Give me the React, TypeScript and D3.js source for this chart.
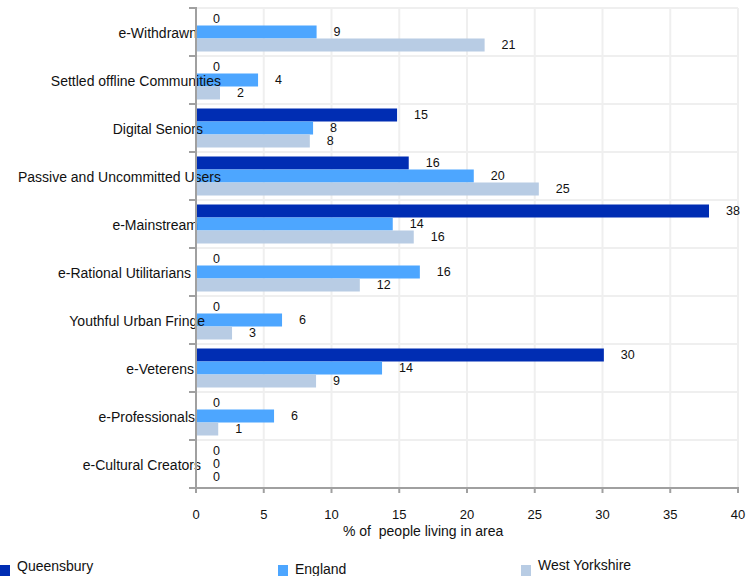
import React from "react";
import * as d3 from "d3";

const categories = [
  "e-Withdrawn",
  "Settled offline Communities",
  "Digital Seniors",
  "Passive and Uncommitted Users",
  "e-Mainstream",
  "e-Rational Utilitarians",
  "Youthful Urban Fringe",
  "e-Veterens",
  "e-Professionals",
  "e-Cultural Creators",
];

const seriesNames = ["Queensbury", "England", "West Yorkshire"];

const queensbury = [0, 0, 14.84, 15.7, 37.86, 0, 0, 30.1, 0, 0];
const england = [8.9, 4.58, 8.64, 20.5, 14.52, 16.52, 6.35, 13.73, 5.76, 0];
const westYorkshire = [21.3, 1.77, 8.4, 25.3, 16.07, 12.09, 2.66, 8.86, 1.64, 0];

const queensburyLabels = ["0", "0", "15", "16", "38", "0", "0", "30", "0", "0"];
const englandLabels = ["9", "4", "8", "20", "14", "16", "6", "14", "6", "0"];
const westYorkshireLabels = ["21", "2", "8", "25", "16", "12", "3", "9", "1", "0"];

const xTicks = [0, 5, 10, 15, 20, 25, 30, 35, 40];
const axisTitle = "% of  people living in area";

// layout nudges for category label ends (as in the reference)
const labelShift = [-3, 21, 3, 21, -2, -9, 5, -6, -5, 1];

const colors = ["#002DB3", "#4DA6FF", "#B8CCE4"];

export default function App() {
  const W = 754;
  const H = 576;
  const left = 196;
  const right = 738;
  const top = 8;
  const bottom = 488;

  const x = d3.scaleLinear().domain([0, 40]).range([left, right]);
  const y = d3.scaleBand<string>().domain(categories).range([top, bottom]);
  const sub = d3
    .scaleBand<string>()
    .domain(seriesNames)
    .range([4.5, y.bandwidth() - 4.5]);

  const seriesVals = [queensbury, england, westYorkshire];
  const seriesLabels = [queensburyLabels, englandLabels, westYorkshireLabels];

  const font = "'Liberation Sans', Arial, Helvetica, sans-serif";
  const grid = "#EFEFEF";
  const axisColor = "#A0A0A0";
  const ink = "#111";

  const boundaries = categories.map((c) => y(c) as number);

  return (
    <svg
      width={W}
      height={H}
      style={{ position: "absolute", left: 0, top: 0, background: "#fff" }}
      fontFamily={font}
    >
      {/* grid */}
      {xTicks.slice(1).map((t) => (
        <line
          key={"gx" + t}
          x1={x(t)}
          x2={x(t)}
          y1={top}
          y2={bottom}
          stroke={grid}
          strokeWidth={2}
        />
      ))}
      {boundaries.map((b, i) => (
        <line
          key={"gy" + i}
          x1={left}
          x2={right}
          y1={b}
          y2={b}
          stroke={grid}
          strokeWidth={2}
        />
      ))}

      {/* bars */}
      {seriesVals.map((vals, si) =>
        vals.map((v, ci) => {
          const y0 = (y(categories[ci]) as number) + (sub(seriesNames[si]) as number);
          return (
            <rect
              key={`b${si}-${ci}`}
              x={x(0)}
              y={y0}
              width={x(v) - x(0)}
              height={sub.bandwidth()}
              fill={colors[si]}
            />
          );
        })
      )}

      {/* category labels */}
      {categories.map((c, i) => (
        <text
          key={"cl" + i}
          x={200 + labelShift[i]}
          y={(y(c) as number) + y.bandwidth() / 2 + 1}
          textAnchor="end"
          dominantBaseline="central"
          fontSize={14}
          fill={ink}
        >
          {c}
        </text>
      ))}

      {/* value labels */}
      {seriesVals.map((vals, si) =>
        vals.map((v, ci) => {
          const yc =
            (y(categories[ci]) as number) +
            (sub(seriesNames[si]) as number) +
            sub.bandwidth() / 2 -
            0.5;
          return (
            <text
              key={`vl${si}-${ci}`}
              x={x(v) + 17}
              y={yc}
              dominantBaseline="central"
              fontSize={12.5}
              fill={ink}
            >
              {seriesLabels[si][ci]}
            </text>
          );
        })
      )}

      {/* y axis */}
      <line x1={left} x2={left} y1={top - 1} y2={bottom} stroke={axisColor} strokeWidth={2} />
      {[...boundaries, bottom].map((b, i) => (
        <line
          key={"yt" + i}
          x1={left - 7}
          x2={left}
          y1={b}
          y2={b}
          stroke={axisColor}
          strokeWidth={2}
        />
      ))}

      {/* x axis */}
      <line x1={left} x2={right + 1} y1={bottom} y2={bottom} stroke={axisColor} strokeWidth={2} />
      {xTicks.map((t) => (
        <g key={"xt" + t}>
          <line
            x1={x(t)}
            x2={x(t)}
            y1={bottom - 1}
            y2={bottom + 5}
            stroke={axisColor}
            strokeWidth={2}
          />
          <text x={x(t)} y={518.5} textAnchor="middle" fontSize={13} fill={ink}>
            {t}
          </text>
        </g>
      ))}
      <text x={343} y={535.5} fontSize={14} fill={ink} style={{ whiteSpace: "pre" }}>
        {axisTitle}
      </text>

      {/* legend */}
      {seriesNames.map((s, i) => {
        const lx = [0, 278, 521][i];
        const ty = [571, 573.5, 569.5][i];
        return (
          <g key={"lg" + i}>
            <rect x={lx} y={565} width={10} height={11} fill={colors[i]} />
            <text x={lx + 17} y={ty} fontSize={14} fill={ink}>
              {s}
            </text>
          </g>
        );
      })}
    </svg>
  );
}
